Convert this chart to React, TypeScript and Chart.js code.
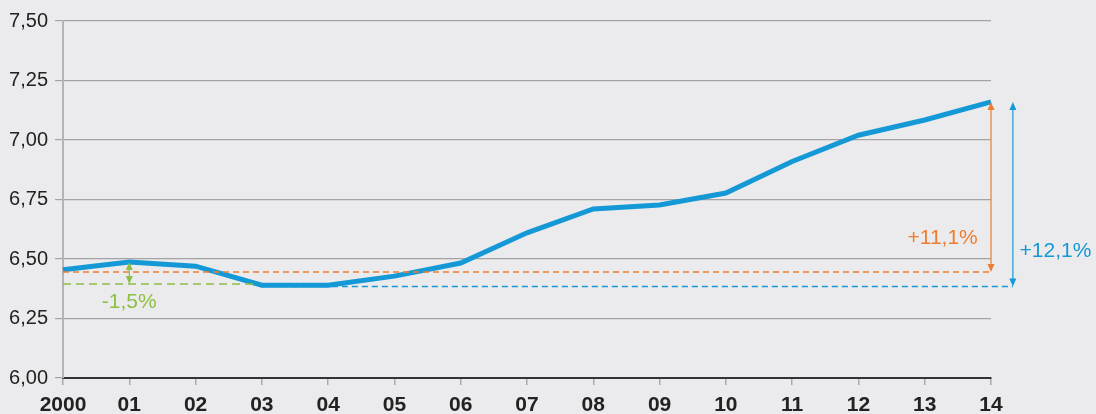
import React, { useEffect, useRef } from "react";
import { Chart, registerables } from "chart.js";

Chart.register(...registerables);

const categories = ["2000", "01", "02", "03", "04", "05", "06", "07", "08", "09", "10", "11", "12", "13", "14"];
const values = [6.455, 6.487, 6.47, 6.39, 6.39, 6.428, 6.483, 6.61, 6.71, 6.727, 6.777, 6.91, 7.02, 7.084, 7.16];
const yTicks = [6.0, 6.25, 6.5, 6.75, 7.0, 7.25, 7.5];

// reference lines: [value, x start index, x end index]
const orangeRef = [6.445, 0, 14];
const greenRef = [6.395, 0, 2.88];
const blueRef = [6.384, 3, 14.33];
// arrows: [x index, from value, to value]
const orangeArrow = [14, 7.16, 6.445];
const blueArrow = [14.33, 7.16, 6.384];
const greenArrow = [1, 6.487, 6.395];
// labels: [text, x index, value]
const labelTexts = ["+11,1%", "+12,1%", "-1,5%"];
const labelX = [13.8, 14.43, 1];
const labelY = [6.588, 6.532, 6.318];

const BLUE = "#1499d6";
const ORANGE = "#ee7d31";
const GREEN = "#8dbf45";
const FONT = "'Liberation Sans', Arial, sans-serif";

const annotPlugin = {
  id: "annot",
  afterDatasetsDraw(chart: any) {
    const { ctx, scales } = chart;
    const xs = scales.x;
    const ys = scales.y;
    const X = (v: number) => xs.getPixelForValue(v);
    const Y = (v: number) => ys.getPixelForValue(v);
    const dash = (ref: number[], color: string, pattern: number[]) => {
      ctx.save();
      ctx.strokeStyle = color;
      ctx.lineWidth = 1.5;
      ctx.setLineDash(pattern);
      ctx.beginPath();
      ctx.moveTo(X(ref[1]), Y(ref[0]));
      ctx.lineTo(X(ref[2]), Y(ref[0]));
      ctx.stroke();
      ctx.restore();
    };
    const arrow = (a: number[], color: string) => {
      const x = X(a[0]);
      const y1 = Y(a[1]);
      const y2 = Y(a[2]);
      ctx.save();
      ctx.strokeStyle = color;
      ctx.fillStyle = color;
      ctx.lineWidth = 1.2;
      ctx.beginPath();
      ctx.moveTo(x, y1 + 4);
      ctx.lineTo(x, y2 - 4);
      ctx.stroke();
      const head = (yy: number, dir: number) => {
        ctx.beginPath();
        ctx.moveTo(x, yy);
        ctx.lineTo(x - 3.5, yy + dir * 8);
        ctx.lineTo(x + 3.5, yy + dir * 8);
        ctx.closePath();
        ctx.fill();
      };
      head(y1, 1);
      head(y2, -1);
      ctx.restore();
    };
    dash(greenRef, GREEN, [8, 5]);
    dash(orangeRef, ORANGE, [6, 4]);
    dash(blueRef, BLUE, [6, 4]);
    arrow(orangeArrow, ORANGE);
    arrow(blueArrow, BLUE);
    arrow(greenArrow, GREEN);
    const colors = [ORANGE, BLUE, GREEN];
    const aligns = ["right", "left", "center"];
    ctx.save();
    ctx.font = "21px " + FONT;
    ctx.textBaseline = "middle";
    labelTexts.forEach((t, i) => {
      ctx.fillStyle = colors[i];
      ctx.textAlign = aligns[i];
      ctx.fillText(t, X(labelX[i]), Y(labelY[i]));
    });
    ctx.restore();
  },
};

const bgPlugin = {
  id: "bg",
  beforeDraw(chart: any) {
    const { ctx, width, height } = chart;
    ctx.save();
    ctx.fillStyle = "#ebebed";
    ctx.fillRect(0, 0, width, height);
    ctx.restore();
  },
};

export default function App() {
  const ref = useRef<HTMLCanvasElement>(null);
  useEffect(() => {
    document.body.style.margin = "0";
    const chart = new Chart(ref.current!, {
      type: "line",
      data: {
        labels: categories,
        datasets: [
          {
            data: values,
            borderColor: BLUE,
            borderWidth: 5,
            pointRadius: 0,
            tension: 0,
            fill: false,
          },
        ],
      },
      options: {
        animation: false,
        responsive: false,
        layout: { padding: { left: 0, right: 105, top: 21, bottom: 0 } },
        plugins: { legend: { display: false }, tooltip: { enabled: false } },
        scales: {
          x: {
            type: "category",
            offset: false,
            grid: {
              drawOnChartArea: false,
              drawTicks: true,
              tickLength: 7,
              color: "#a9a9ab",
              lineWidth: 1.5,
            },
            border: { display: true, color: "#333333", width: 2 },
            ticks: {
              color: "#222222",
              font: { family: FONT, size: 21, weight: "bold" },
              padding: 8,
              maxRotation: 0,
              autoSkip: false,
            },
            afterFit: (s: any) => {
              s.height = 36;
            },
          },
          y: {
            min: 6,
            max: 7.5,
            afterBuildTicks: (s: any) => {
              s.ticks = yTicks.map((v) => ({ value: v }));
            },
            grid: {
              color: "#a3a3a5",
              lineWidth: 1.2,
              drawTicks: true,
              tickLength: 8,
            },
            border: { display: true, color: "#b4b4b6", width: 2 },
            ticks: {
              color: "#222222",
              font: { family: FONT, size: 20 },
              padding: 7,
              callback: (v: any) => Number(v).toFixed(2).replace(".", ","),
            },
            afterFit: (s: any) => {
              s.width = 63;
            },
          },
        },
      },
      plugins: [bgPlugin, annotPlugin],
    });
    return () => chart.destroy();
  }, []);
  return (
    <div style={{ width: 1096, height: 414, background: "#ebebed" }}>
      <canvas ref={ref} width={1096} height={414} style={{ display: "block" }} />
    </div>
  );
}
